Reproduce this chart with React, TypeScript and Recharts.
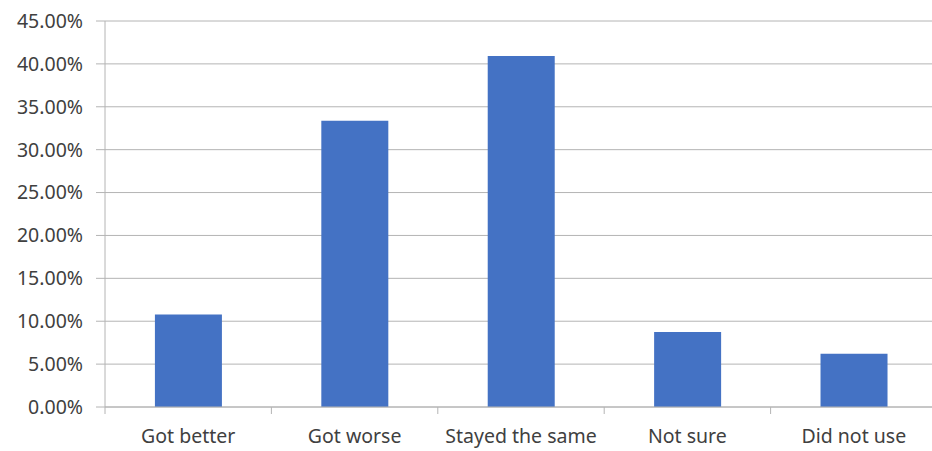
import { BarChart, Bar, XAxis, YAxis, CartesianGrid } from 'recharts';

// Survey answers and share of respondents (as fractions)
const answers = ['Got better', 'Got worse', 'Stayed the same', 'Not sure', 'Did not use'];
const shares = [0.1078, 0.3336, 0.4092, 0.0873, 0.0620];
const yTicks = [0, 0.05, 0.1, 0.15, 0.2, 0.25, 0.3, 0.35, 0.4, 0.45];

const data = answers.map((answer, i) => ({ answer, share: shares[i] }));

const W = 940;
const H = 451;
const MARGIN = { top: 21, right: 3, bottom: 0, left: 0 };
const Y_WIDTH = 105;
const BAND = (W - MARGIN.left - MARGIN.right - Y_WIDTH) / answers.length;

const GRID = '#b4b4b4';
const TEXT = '#404040';
const FONT = '"Noto Sans", "Open Sans", sans-serif';
const FONT_SIZE = 19.5;

// Category label centred in its band, with tick marks on the band edges
const CategoryTick = ({ x, y, payload, index }: any) => {
  const top = y - 2;
  return (
    <g>
      <line x1={x - BAND / 2} x2={x - BAND / 2} y1={top} y2={top + 7} stroke={GRID} />
      {index === answers.length - 1 && (
        <line x1={x + BAND / 2} x2={x + BAND / 2} y1={top} y2={top + 7} stroke={GRID} />
      )}
      <text x={x} y={top + 36} textAnchor="middle" fill={TEXT} fontSize={FONT_SIZE} fontFamily={FONT}>
        {payload.value}
      </text>
    </g>
  );
};

export default function App() {
  return (
    <div
      style={{
        position: 'fixed',
        top: 0,
        left: 0,
        width: 932,
        height: H,
        overflow: 'hidden',
        background: '#fff',
      }}
    >
      <BarChart width={W} height={H} data={data} margin={MARGIN} barCategoryGap="30%">
        <CartesianGrid vertical={false} stroke={GRID} />
        <XAxis
          dataKey="answer"
          height={44}
          axisLine={{ stroke: GRID }}
          tickLine={false}
          tickSize={0}
          tickMargin={2}
          interval={0}
          tick={<CategoryTick />}
        />
        <YAxis
          width={Y_WIDTH}
          domain={[0, 0.45]}
          ticks={yTicks}
          tickFormatter={(v: number) => `${(v * 100).toFixed(2)}%`}
          axisLine={{ stroke: GRID }}
          tickLine={{ stroke: GRID }}
          tickSize={9}
          tickMargin={13}
          tick={{ fill: TEXT, fontSize: FONT_SIZE, fontFamily: FONT }}
        />
        <Bar dataKey="share" fill="#4472C4" isAnimationActive={false} />
      </BarChart>
    </div>
  );
}
